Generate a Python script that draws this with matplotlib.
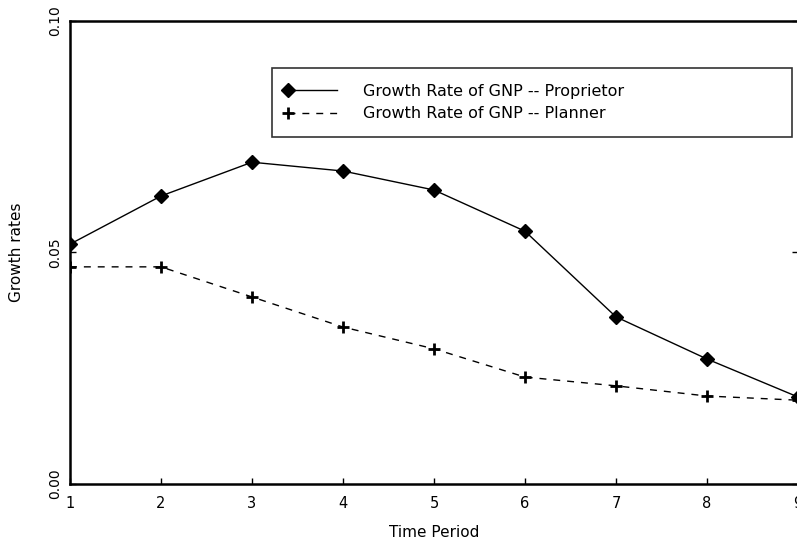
import numpy as np
import matplotlib.pyplot as plt
from matplotlib.legend_handler import HandlerLine2D

# Time periods and growth rates
periods = [1, 2, 3, 4, 5, 6, 7, 8, 9]
proprietor = [0.0518, 0.0622, 0.0695, 0.0676, 0.0635, 0.0546, 0.0361, 0.0270, 0.0188]
planner = [0.0469, 0.0469, 0.0404, 0.0339, 0.0292, 0.0231, 0.0212, 0.0190, 0.0181]
yticks = [0.0, 0.05, 0.10]
ytick_labels = ['0.00', '0.05', '0.10']

plt.rcParams['font.family'] = 'DejaVu Sans'


# legend handle with the marker at the left end of the line sample
class LeftMarker(HandlerLine2D):
    def create_artists(self, *args, **kwargs):
        artists = super().create_artists(*args, **kwargs)
        artists[0].set_markevery([0])
        return artists


fig = plt.figure(figsize=(7.97, 5.44), dpi=100)
ax = fig.add_axes([0.0878, 0.1103, 0.9134, 0.8511])

l1, = ax.plot(periods, proprietor, color='black', lw=1.0, linestyle='-',
              marker='D', markersize=7, label='Growth Rate of GNP -- Proprietor')
l2, = ax.plot(periods, planner, color='black', lw=1.0, linestyle=(0, (5, 5)),
              marker='+', markersize=9, markeredgewidth=2,
              label='Growth Rate of GNP -- Planner')

ax.set_xlim(1, 9)
ax.set_ylim(0, 0.10)
ax.set_xticks(periods)
ax.set_xticklabels([str(p) for p in periods], fontsize=10.5)
ax.set_yticks(yticks)
ax.set_yticklabels(ytick_labels, rotation=90, va='center', fontsize=10)
ax.tick_params(direction='in', length=4, width=1, right=True, top=False)
ax.tick_params(axis='x', pad=9)
ax.tick_params(axis='y', pad=6)

for side in ['left', 'bottom', 'top', 'right']:
    ax.spines[side].set_linewidth(1.8)

ax.set_xlabel('Time Period', fontsize=11, labelpad=10)
ax.set_ylabel('Growth rates', fontsize=11, labelpad=17)

leg = ax.legend(handles=[l1, l2], loc='upper left',
                bbox_to_anchor=(0.2775, 0.749, 0.7145, 0.1495),
                mode='expand', frameon=True, fancybox=False, fontsize=11.5,
                handlelength=3.1, handletextpad=1.6, borderpad=1.0,
                labelspacing=0.45, borderaxespad=0,
                handler_map={l1: LeftMarker(), l2: LeftMarker()})
leg.get_frame().set_edgecolor('black')
leg.get_frame().set_linewidth(1.2)

fig.savefig('out.png', dpi=100)
